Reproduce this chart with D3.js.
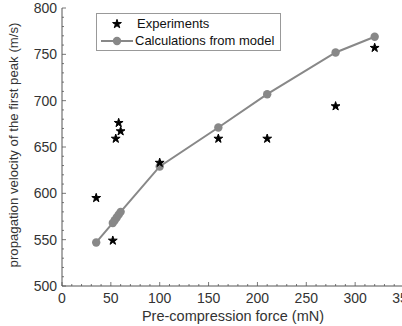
<!DOCTYPE html>
<html>
<head>
<meta charset="utf-8">
<script src="https://cdn.jsdelivr.net/npm/d3@7"></script>
<style>
  body { margin: 0; background: #fff; }
  svg { font-family: "Liberation Sans", Arial, sans-serif; }
</style>
</head>
<body>
<svg id="chart" width="402" height="326"></svg>
<script>
// data
var expForce = [35, 52, 55, 58, 60, 100, 160, 210, 280, 320];
var expVelocity = [595, 549, 659, 676, 667, 633, 659, 659, 694, 757];
var modelForce = [35, 52, 54, 56, 58, 60, 100, 160, 210, 280, 320];
var modelVelocity = [547, 568, 571, 574, 577, 580, 629, 671, 707, 752, 769];
var xTicks = [0, 50, 100, 150, 200, 250, 300, 350];
var yTicks = [500, 550, 600, 650, 700, 750, 800];

var svg = d3.select("#chart");
var x = d3.scaleLinear().domain([0, 350]).range([62, 404]);
var y = d3.scaleLinear().domain([500, 800]).range([286, 8]);

// minor ticks, pointing inward
var g = svg.append("g");
d3.range(0, 351, 10).forEach(function (v) {
    g.append("line").attr("x1", x(v)).attr("x2", x(v))
        .attr("y1", y(500)).attr("y2", y(500) - (v % 50 === 0 ? 4 : 2))
        .attr("stroke", "#555").attr("stroke-width", 0.8);
});
d3.range(500, 801, 10).forEach(function (v) {
    g.append("line").attr("y1", y(v)).attr("y2", y(v))
        .attr("x1", x(0)).attr("x2", x(0) + (v % 50 === 0 ? 4 : 2))
        .attr("stroke", "#555").attr("stroke-width", 0.8);
});
// axis lines
g.append("line").attr("x1", x(0)).attr("x2", x(350)).attr("y1", y(500)).attr("y2", y(500))
    .attr("stroke", "#555").attr("stroke-width", 1);
g.append("line").attr("x1", x(0)).attr("x2", x(0)).attr("y1", y(500)).attr("y2", y(800))
    .attr("stroke", "#555").attr("stroke-width", 1);

// tick labels
svg.selectAll(".xt").data(xTicks).enter().append("text")
    .attr("x", function (d) { return x(d); }).attr("y", 303)
    .attr("text-anchor", "middle").attr("font-size", 14).attr("fill", "#333")
    .text(function (d) { return d; });
svg.selectAll(".yt").data(yTicks).enter().append("text")
    .attr("x", 57).attr("y", function (d) { return y(d) + 5; })
    .attr("text-anchor", "end").attr("font-size", 14).attr("fill", "#333")
    .text(function (d) { return d; });

// axis titles
svg.append("text").attr("x", 233).attr("y", 321).attr("text-anchor", "middle")
    .attr("font-size", 14.5).attr("fill", "#333").text("Pre-compression force (mN)");
svg.append("text").attr("transform", "translate(18,145) rotate(-90)").attr("text-anchor", "middle")
    .attr("font-size", 13.2).attr("fill", "#333").text("propagation velocity of the first peak (m/s)");

// model line
var model = modelForce.map(function (f, i) { return [f, modelVelocity[i]]; });
var line = d3.line().x(function (d) { return x(d[0]); }).y(function (d) { return y(d[1]); });
svg.append("path").datum(model).attr("d", line)
    .attr("fill", "none").attr("stroke", "#888").attr("stroke-width", 2);
svg.selectAll(".mc").data(model).enter().append("circle")
    .attr("cx", function (d) { return x(d[0]); }).attr("cy", function (d) { return y(d[1]); })
    .attr("r", 4.2).attr("fill", "#888");

// experiment stars
var star = d3.symbol().type(d3.symbolStar).size(24);
svg.selectAll(".st").data(expForce).enter().append("path")
    .attr("d", star)
    .attr("transform", function (d, i) { return "translate(" + x(d) + "," + y(expVelocity[i]) + ")"; })
    .attr("fill", "#000").attr("stroke", "#000").attr("stroke-width", 1).attr("stroke-linejoin", "round");

// legend
var lg = svg.append("g");
lg.append("rect").attr("x", 96.5).attr("y", 13.5).attr("width", 184).attr("height", 37)
    .attr("fill", "#fff").attr("stroke", "#999").attr("stroke-width", 1);
lg.append("path").attr("d", star).attr("transform", "translate(117,24)")
    .attr("fill", "#000").attr("stroke", "#000").attr("stroke-width", 1).attr("stroke-linejoin", "round");
lg.append("line").attr("x1", 101).attr("x2", 133).attr("y1", 41).attr("y2", 41)
    .attr("stroke", "#888").attr("stroke-width", 2);
lg.append("circle").attr("cx", 117).attr("cy", 41).attr("r", 4.2).attr("fill", "#888");
lg.append("text").attr("x", 137).attr("y", 28).attr("font-size", 13).attr("fill", "#111").text("Experiments");
lg.append("text").attr("x", 135).attr("y", 45).attr("font-size", 13).attr("fill", "#111").text("Calculations from model");
</script>
</body>
</html>
